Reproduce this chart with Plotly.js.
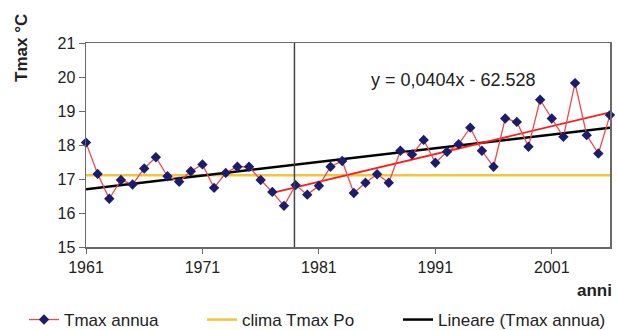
<!DOCTYPE html>
<html>
<head>
<meta charset="utf-8">
<script src="https://cdn.plot.ly/plotly-3.0.1.min.js"></script>
<style>
html,body{margin:0;padding:0;background:#fff;}
#chart{width:617px;height:330px;}
</style>
</head>
<body>
<div id="chart"></div>
<script>
const years = [1961,1962,1963,1964,1965,1966,1967,1968,1969,1970,
               1971,1972,1973,1974,1975,1976,1977,1978,1979,1980,
               1981,1982,1983,1984,1985,1986,1987,1988,1989,1990,
               1991,1992,1993,1994,1995,1996,1997,1998,1999,2000,
               2001,2002,2003,2004,2005,2006];
const tmaxAnnua = [18.07,17.15,16.42,16.97,16.84,17.31,17.64,17.08,16.92,17.23,
                   17.43,16.74,17.18,17.36,17.36,16.97,16.62,16.21,16.82,16.54,
                   16.80,17.36,17.53,16.59,16.89,17.14,16.89,17.83,17.72,18.15,
                   17.48,17.80,18.02,18.51,17.83,17.36,18.78,18.68,17.95,19.33,
                   18.78,18.24,19.82,18.29,17.75,18.88];
const climaYears = [1961, 2006];
const climaValues = [17.11, 17.11];
const linYears = [1961, 2006];
const linValues = [16.70, 18.51];
const recentTrendYears = [1977, 2006];
const recentTrendValues = [16.59, 18.96];
const breakYear = 1978.9;
const xTicks = [1961, 1971, 1981, 1991, 2001];
const yTicks = [15, 16, 17, 18, 19, 20, 21];
const equationText = "y = 0,0404x - 62.528";

const FONT = "Liberation Sans, Arial, sans-serif";

const traces = [
  {x: climaYears, y: climaValues, type: 'scatter', mode: 'lines',
   name: 'clima Tmax Po', line: {color: '#f2c53d', width: 2.5},
   legend: 'legend2', hoverinfo: 'skip'},
  {x: linYears, y: linValues, type: 'scatter', mode: 'lines',
   name: 'Lineare (Tmax annua)', line: {color: '#000000', width: 2.5},
   legend: 'legend3', hoverinfo: 'skip'},
  {x: recentTrendYears, y: recentTrendValues, type: 'scatter', mode: 'lines',
   name: 'trend', line: {color: '#ff1a1a', width: 1.8}, showlegend: false, hoverinfo: 'skip'},
  {x: years, y: tmaxAnnua, type: 'scatter', mode: 'lines+markers',
   name: 'Tmax annua', line: {color: '#ec4a4a', width: 1.3},
   marker: {symbol: 'diamond', size: 8, color: '#1c1c6c'},
   cliponaxis: false, legend: 'legend'}
];

const legendBase = {orientation: 'h', xref: 'container', yref: 'container',
  yanchor: 'middle', y: 1 - 320 / 330, xanchor: 'left',
  font: {family: FONT, size: 17, color: '#222'}, bgcolor: 'rgba(0,0,0,0)'};

const layout = {
  width: 617, height: 330,
  margin: {l: 86, r: 7, t: 43, b: 83, autoexpand: false},
  paper_bgcolor: '#ffffff', plot_bgcolor: '#ffffff',
  font: {family: FONT, color: '#222'},
  xaxis: {range: [1961, 2006], tickvals: xTicks, ticktext: xTicks.map(String),
    showgrid: false, zeroline: false, showline: true, mirror: true, automargin: false,
    linecolor: '#6a6a6a', linewidth: 1.5, ticks: 'outside', ticklen: 5,
    tickcolor: '#6a6a6a', tickfont: {family: FONT, size: 16, color: '#222'}},
  yaxis: {range: [15, 21], tickvals: yTicks, ticktext: yTicks.map(String),
    showgrid: false, zeroline: false, showline: true, mirror: true, automargin: false,
    linecolor: '#6a6a6a', linewidth: 1.5, ticks: 'outside', ticklen: 6,
    tickcolor: '#6a6a6a', tickfont: {family: FONT, size: 16, color: '#222'}},
  showlegend: true,
  legend: Object.assign({}, legendBase, {x: 24 / 617}),
  legend2: Object.assign({}, legendBase, {x: 202 / 617}),
  legend3: Object.assign({}, legendBase, {x: 398 / 617}),
  shapes: [
    {type: 'line', xref: 'x', yref: 'paper', x0: breakYear, x1: breakYear, y0: 0, y1: 1,
     line: {color: '#444444', width: 1.5}}
  ],
  annotations: [
    {text: equationText, xref: 'paper', yref: 'paper', x: (453 - 86) / 524, y: (247 - 80) / 204,
     xanchor: 'center', yanchor: 'middle', showarrow: false,
     font: {family: FONT, size: 18, color: '#222'}},
    {text: '<b>Tmax °C</b>', xref: 'paper', yref: 'paper', x: (21 - 86) / 524, y: (247 - 48) / 204,
     xanchor: 'center', yanchor: 'middle', textangle: -90, showarrow: false,
     font: {family: FONT, size: 17, color: '#222'}},
    {text: '<b>anni</b>', xref: 'paper', yref: 'paper', x: (614 - 86) / 524, y: (247 - 290) / 204,
     xanchor: 'right', yanchor: 'middle', showarrow: false,
     font: {family: FONT, size: 17, color: '#222'}}
  ]
};

Plotly.newPlot('chart', traces, layout, {displayModeBar: false, staticPlot: true});
</script>
</body>
</html>
